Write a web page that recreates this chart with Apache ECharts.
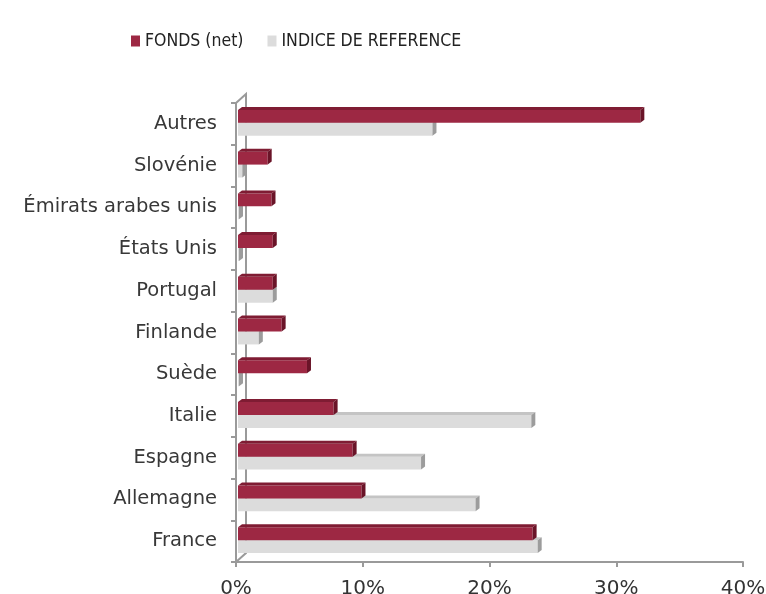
<!DOCTYPE html>
<html>
<head>
<meta charset="utf-8">
<script src="https://cdn.jsdelivr.net/npm/echarts@6/dist/echarts.min.js"></script>
<style>
  html, body { margin: 0; padding: 0; background: #fff; }
  #chart { width: 766px; height: 594px; }
</style>
</head>
<body>
<div id="chart"></div>
<script>
  // categories, bottom to top
  const categories = ['France', 'Allemagne', 'Espagne', 'Italie', 'Suède', 'Finlande',
    'Portugal', 'États Unis', 'Émirats arabes unis', 'Slovénie', 'Autres'];
  const fonds = [23.4, 9.9, 9.2, 7.7, 5.6, 3.6, 2.9, 2.9, 2.8, 2.5, 31.9];
  const indice = [23.8, 18.9, 14.6, 23.3, 0.1, 1.8, 2.9, 0.1, 0.1, 0.5, 15.5];
  const xTicks = [0, 10, 20, 30, 40];

  const GRID = { left: 236, top: 103, right: 23, bottom: 32, containLabel: false, outerBoundsMode: 'none' };

  // petite barre 3D : face avant + dessus + côté
  function box(colors, slot) {
    return function (params, api) {
      const cat = api.value(1);
      const start = api.coord([0, cat]);
      const end = api.coord([api.value(0), cat]);
      const band = api.size([0, 1])[1];
      const h = band * 0.31;
      const dx = 4, dy = 3;
      const y0 = start[1] - 1 + (slot === 0 ? -h : 0);
      const x0 = start[0] + 2;
      const x1 = Math.max(end[0], x0 + 1);
      return {
        type: 'group',
        children: [
          { type: 'rect', shape: { x: x0, y: y0, width: x1 - x0, height: h }, style: { fill: colors[0] } },
          { type: 'polygon', shape: { points: [[x0, y0], [x0 + dx, y0 - dy], [x1 + dx, y0 - dy], [x1, y0]] }, style: { fill: colors[1] } },
          { type: 'polygon', shape: { points: [[x1, y0], [x1 + dx, y0 - dy], [x1 + dx, y0 + h - dy], [x1, y0 + h]] }, style: { fill: colors[2] } }
        ]
      };
    };
  }

  const red = ['#9d2843', '#7f1c33', '#6a1428'];
  const grey = ['#dcdcdc', '#c4c4c4', '#9c9c9c'];

  const myChart = echarts.init(document.getElementById('chart'));
  const option = {
    backgroundColor: '#ffffff',
    animation: false,
    legend: {
      left: 131,
      top: 32,
      padding: 0,
      itemWidth: 9,
      itemHeight: 11,
      itemGap: 24,
      textStyle: { fontFamily: 'DejaVu Sans Condensed, sans-serif', fontSize: 17.5, color: '#222' },
      data: [
        { name: 'FONDS (net)', icon: 'rect', itemStyle: { color: red[0] } },
        { name: 'INDICE DE REFERENCE', icon: 'rect', itemStyle: { color: grey[0] } }
      ]
    },
    grid: GRID,
    xAxis: {
      type: 'value',
      min: xTicks[0],
      max: xTicks[xTicks.length - 1],
      interval: 10,
      splitLine: { show: false },
      axisLine: { show: true, lineStyle: { color: '#9a9a9a', width: 2 } },
      axisTick: { show: true, length: 5, lineStyle: { color: '#9a9a9a', width: 2 } },
      axisLabel: {
        margin: 17,
        formatter: '{value}%',
        fontFamily: 'DejaVu Sans',
        fontSize: 20,
        color: '#333'
      }
    },
    yAxis: {
      type: 'category',
      data: categories,
      axisLine: { show: true, lineStyle: { color: '#9a9a9a', width: 2 } },
      axisTick: { show: true, length: 5, lineStyle: { color: '#9a9a9a', width: 2 } },
      axisLabel: {
        margin: 19,
        fontFamily: 'DejaVu Sans',
        fontSize: 19.5,
        color: '#383838'
      }
    },
    graphic: [
      // paroi arrière
      { type: 'polyline', silent: true, z: 1,
        shape: { points: [[GRID.left, GRID.top], [GRID.left + 10, GRID.top - 9], [GRID.left + 10, 594 - GRID.bottom - 9], [GRID.left, 594 - GRID.bottom]] },
        style: { stroke: '#9a9a9a', lineWidth: 2, fill: null } }
    ],
    series: [
      {
        name: 'INDICE DE REFERENCE',
        type: 'custom',
        z: 2,
        renderItem: box(grey, 1),
        encode: { x: 0, y: 1 },
        data: indice.map((v, i) => [v, i])
      },
      {
        name: 'FONDS (net)',
        type: 'custom',
        z: 3,
        renderItem: box(red, 0),
        encode: { x: 0, y: 1 },
        data: fonds.map((v, i) => [v, i])
      }
    ]
  };
  myChart.setOption(option);
</script>
</body>
</html>
